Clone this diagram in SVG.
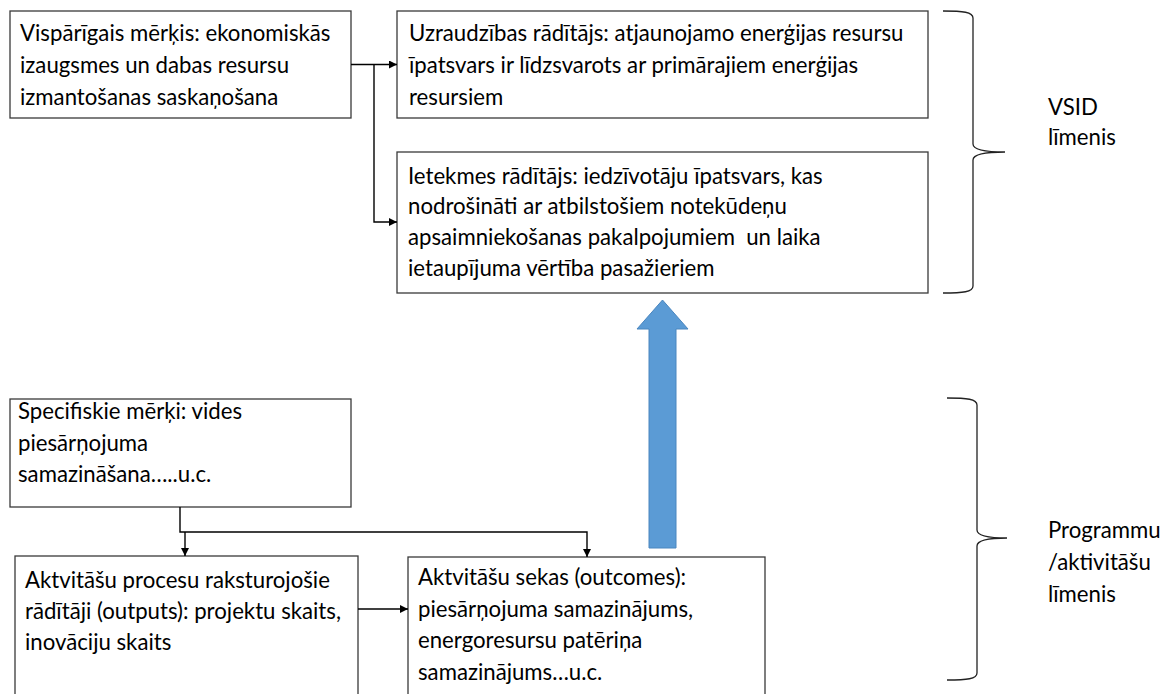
<svg xmlns="http://www.w3.org/2000/svg" width="1172" height="694" viewBox="0 0 1172 694">
<style>
  .box { fill: #ffffff; stroke: #3a3a3a; stroke-width: 1.3; }
  .t { font-family: Lato, "Open Sans", "Liberation Sans", sans-serif; font-size: 22.2px; fill: #000000; white-space: pre; }
  .con { fill: none; stroke: #000000; stroke-width: 1.4; }
  .brace { fill: none; stroke: #222222; stroke-width: 1.3; }
</style>
<defs>
  <marker id="ah" viewBox="0 0 10 10" refX="10" refY="5" markerWidth="8" markerHeight="8" markerUnits="userSpaceOnUse" orient="auto">
    <path d="M0,0 L10,5 L0,10 z" fill="#000000"/>
  </marker>
</defs>
<rect width="1172" height="694" fill="#ffffff"/>

<g id="node-visparigais">
  <rect class="box" x="10" y="11" width="341" height="107"/>
  <text class="t" x="20" y="41">Vispārīgais mērķis: ekonomiskās</text>
  <text class="t" x="20" y="73">izaugsmes un dabas resursu</text>
  <text class="t" x="20" y="105">izmantošanas saskaņošana</text>
</g>

<g id="node-uzraudzibas">
  <rect class="box" x="397" y="11" width="531" height="107"/>
  <text class="t" x="409" y="41">Uzraudzības rādītājs: atjaunojamo enerģijas resursu</text>
  <text class="t" x="409" y="73">īpatsvars ir līdzsvarots ar primārajiem enerģijas</text>
  <text class="t" x="409" y="105">resursiem</text>
</g>

<g id="node-ietekmes">
  <rect class="box" x="397" y="152" width="531" height="141"/>
  <text class="t" x="408" y="184">Ietekmes rādītājs: iedzīvotāju īpatsvars, kas</text>
  <text class="t" x="408" y="214">nodrošināti ar atbilstošiem notekūdeņu</text>
  <text class="t" x="408" y="245">apsaimniekošanas pakalpojumiem  un laika</text>
  <text class="t" x="408" y="276">ietaupījuma vērtība pasažieriem</text>
</g>

<g id="node-specifiskie">
  <rect class="box" x="10" y="399" width="341" height="108"/>
  <text class="t" x="18" y="419">Specifiskie mērķi: vides</text>
  <text class="t" x="18" y="451">piesārņojuma</text>
  <text class="t" x="18" y="482">samazināšana…..u.c.</text>
</g>

<g id="node-outputs">
  <rect class="box" x="15" y="556" width="343" height="150"/>
  <text class="t" x="25" y="588">Aktvitāšu procesu raksturojošie</text>
  <text class="t" x="25" y="619">rādītāji (outputs): projektu skaits,</text>
  <text class="t" x="25" y="650">inovāciju skaits</text>
</g>

<g id="node-outcomes">
  <rect class="box" x="408" y="557" width="357" height="150"/>
  <text class="t" x="418" y="585">Aktvitāšu sekas (outcomes):</text>
  <text class="t" x="418" y="617">piesārņojuma samazinājums,</text>
  <text class="t" x="418" y="648">energoresursu patēriņa</text>
  <text class="t" x="418" y="680">samazinājums…u.c.</text>
</g>

<g id="connectors">
  <path class="con" d="M351,64.5 L397,64.5" marker-end="url(#ah)"/>
  <path class="con" d="M374,64.5 L374,222 L397,222" marker-end="url(#ah)"/>
  <path class="con" d="M180,507 L180,532 L587,532 L587,557" marker-end="url(#ah)"/>
  <path class="con" d="M185,532 L185,556" marker-end="url(#ah)"/>
  <path class="con" d="M358,609 L408,609" marker-end="url(#ah)"/>
  <polygon id="big-arrow" points="662.5,300 688,329 676,329 676,548 649,548 649,329 637,329" fill="#5b9bd5" stroke="#4a86bf" stroke-width="1"/>
</g>

<g id="brace-vsid">
  <path class="brace" d="M943,11 C963,11 973,12 973,18 L973,144 C973,150 985,152 1005,152 C985,152 973,154 973,160 L973,286 C973,292 963,293 943,293"/>
  <text class="t" x="1048" y="115">VSID</text>
  <text class="t" x="1048" y="145">līmenis</text>
</g>

<g id="brace-programmu">
  <path class="brace" d="M947,398 C967,398 977,399 977,405 L977,530 C977,536 989,538 1007,538 C989,538 977,540 977,546 L977,673 C977,679 967,680 947,680"/>
  <text class="t" x="1048" y="538">Programmu</text>
  <text class="t" x="1048" y="570">/aktivitāšu</text>
  <text class="t" x="1048" y="602">līmenis</text>
</g>
</svg>
